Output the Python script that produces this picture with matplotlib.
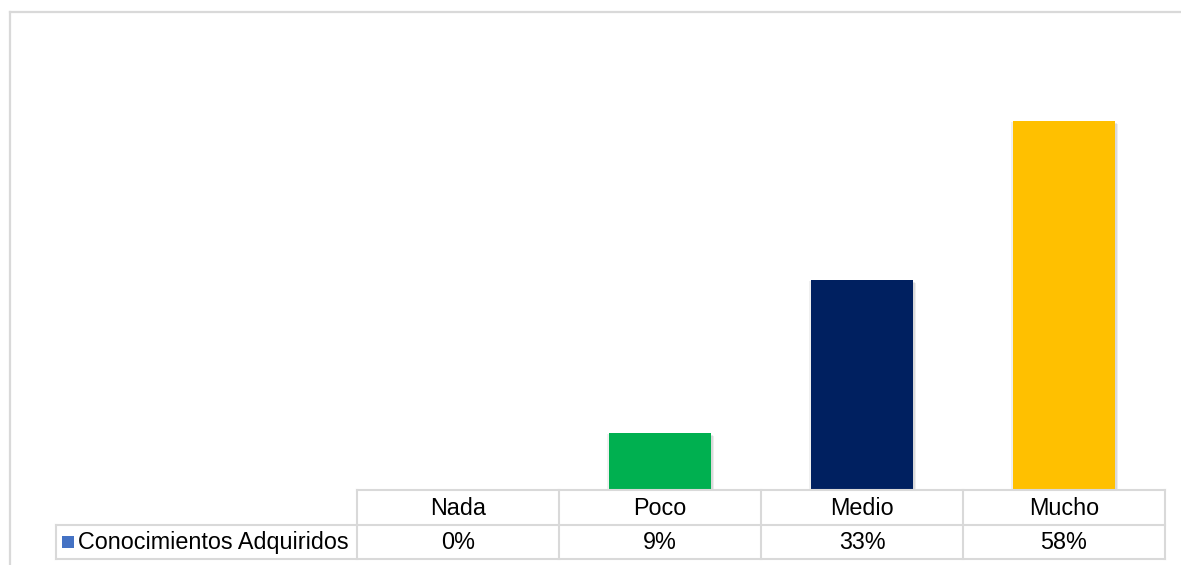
import matplotlib.pyplot as plt
import matplotlib.patheffects as pe
from matplotlib.patches import Rectangle

plt.rcParams['font.family'] = ['Liberation Sans', 'DejaVu Sans']

categories = ['Nada', 'Poco', 'Medio', 'Mucho']
values = [0, 9, 33, 58]
value_labels = ['0%', '9%', '33%', '58%']
series_name = 'Conocimientos Adquiridos'
bar_colors = ['#4472C4', '#00B050', '#002060', '#FFC000']
series_color = '#4472C4'

W, H = 1181, 565
grid_color = '#d9d9d9'
fs = 16.8

fig = plt.figure(figsize=(W / 100, H / 100), dpi=100)
fig.patch.set_facecolor('white')

# chart frame (light gray, open to the right and bottom)
fig.add_artist(plt.Line2D([10 / W, 10 / W], [0, 1 - 12 / H], color=grid_color, lw=1.6,
                          transform=fig.transFigure))
fig.add_artist(plt.Line2D([10 / W, 1], [1 - 12 / H, 1 - 12 / H], color=grid_color, lw=1.6,
                          transform=fig.transFigure))

# plot area
x0, x1 = 357, 1165
base_y = 490
y_max = 70
px_per_unit = 369 / 58
ax = fig.add_axes([x0 / W, (H - base_y) / H, (x1 - x0) / W, y_max * px_per_unit / H])
ax.set_xlim(-0.5, len(categories) - 0.5)
ax.set_ylim(0, y_max)
ax.axis('off')

shadow = [
    pe.SimplePatchShadow(offset=(1.5, -1.5), shadow_rgbFace='black', alpha=0.08),
    pe.SimplePatchShadow(offset=(2.5, -2.0), shadow_rgbFace='black', alpha=0.07),
    pe.SimplePatchShadow(offset=(-1.2, -1.0), shadow_rgbFace='black', alpha=0.06),
    pe.Normal(),
]
bars = ax.bar(range(len(categories)), values, width=0.505, color=bar_colors)
for b, v in zip(bars, values):
    if v > 0:
        b.set_path_effects(shadow)

# data table underneath
col_w = (x1 - x0) / len(categories)
tx0 = 56
ty0, ty1 = 490, 559
tab = fig.add_axes([tx0 / W, (H - ty1) / H, (x1 - tx0) / W, (ty1 - ty0) / H])
left = -0.5 - (x0 - tx0) / col_w
right = len(categories) - 0.5
tab.set_xlim(left, right)
tab.set_ylim(0, 2)
tab.axis('off')

lw = 1.5
tab.plot([-0.5, right], [2, 2], color=grid_color, lw=lw, clip_on=False)
tab.plot([left, right], [1, 1], color=grid_color, lw=lw, clip_on=False)
tab.plot([left, right], [0, 0], color=grid_color, lw=lw, clip_on=False)
tab.plot([left, left], [0, 1], color=grid_color, lw=lw, clip_on=False)
for i in range(len(categories) + 1):
    tab.plot([i - 0.5, i - 0.5], [0, 2], color=grid_color, lw=lw, clip_on=False)

for i, (cat, lab) in enumerate(zip(categories, value_labels)):
    tab.text(i, 1.47, cat, ha='center', va='center', fontsize=fs, color='black')
    tab.text(i, 0.47, lab, ha='center', va='center', fontsize=fs, color='black')

# legend key and series name
key_w = 12 / col_w
key_h = 12 / ((ty1 - ty0) / 2)
tab.add_patch(Rectangle((left + 6 / col_w, 0.5 - key_h / 2), key_w, key_h,
                        facecolor=series_color, edgecolor='none', clip_on=False))
tab.text(left + 22 / col_w, 0.47, series_name, ha='left', va='center',
         fontsize=fs, color='black')

fig.savefig('out.png', dpi=100, facecolor='white')
